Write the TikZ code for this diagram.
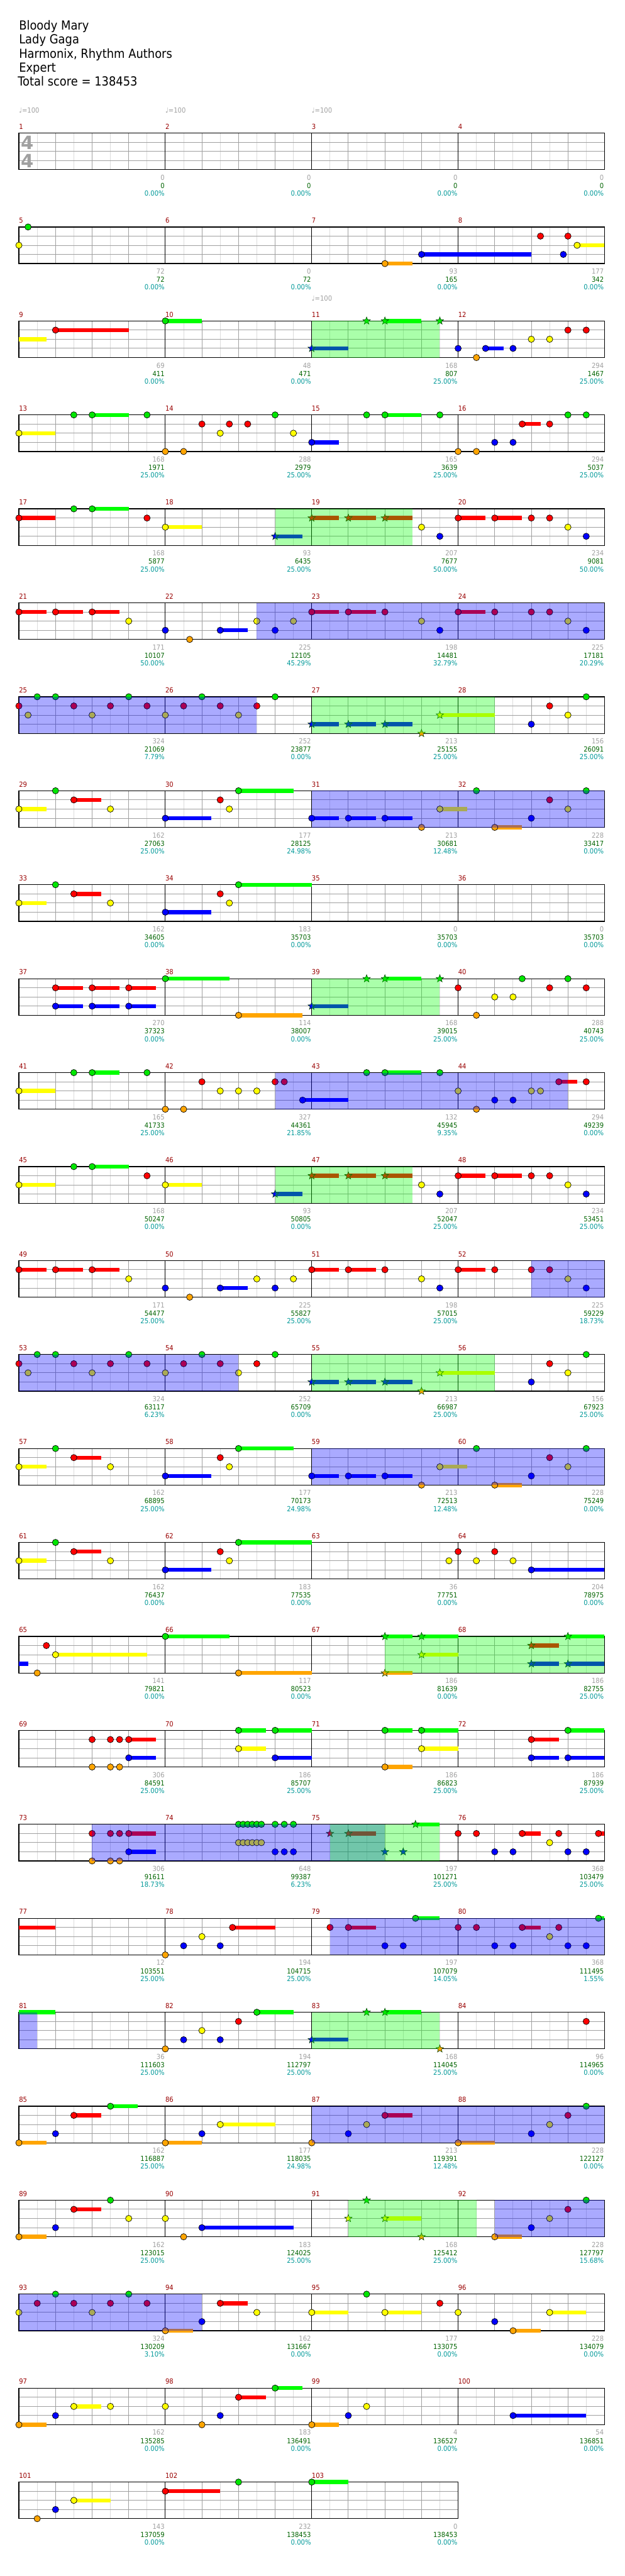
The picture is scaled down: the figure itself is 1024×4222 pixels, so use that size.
\documentclass[tikz,border=0pt]{standalone}
\usepackage{fontspec}
\setmainfont{DejaVu Sans}
\newfontfamily\lblfont[FakeStretch=0.9]{DejaVu Sans}
\usetikzlibrary{shapes.geometric}

\definecolor{lane0}{RGB}{0,230,0}
\definecolor{lane1}{RGB}{255,0,0}
\definecolor{lane2}{RGB}{255,255,0}
\definecolor{lane3}{RGB}{0,0,255}
\definecolor{lane4}{RGB}{255,165,0}
\definecolor{bar0}{RGB}{0,255,0}
\colorlet{bar1}{lane1}
\colorlet{bar2}{lane2}
\colorlet{bar3}{lane3}
\colorlet{bar4}{lane4}
\definecolor{numcol}{RGB}{153,0,0}
\definecolor{cntcol}{RGB}{160,160,160}
\definecolor{ptscol}{RGB}{0,100,0}
\definecolor{pctcol}{RGB}{0,153,153}
\definecolor{gridlt}{RGB}{220,220,220}
\definecolor{griddk}{RGB}{160,160,160}
\definecolor{stardk}{RGB}{0,60,0}

\tikzset{
  eighthline/.style={draw=gridlt,line width=1pt},
  beatline/.style={draw=griddk,line width=1pt},
  laneline/.style={draw=griddk,line width=1pt},
  barline/.style={draw=black,line width=1pt},
  staffline/.style={draw=black,line width=1.3pt},
  notedot/.style={draw=black,line width=0.7pt},
  spnote/.style={star,star points=5,star point ratio=2.4,minimum size=13pt,inner sep=0pt,draw=stardk,line width=0.6pt},
  lbl/.style={inner sep=0pt,font=\lblfont\fontsize{11.5}{12}\selectfont},
  numlbl/.style={lbl,text=numcol,anchor=base west},
  cntlbl/.style={lbl,text=cntcol,anchor=base east},
  ptslbl/.style={lbl,text=ptscol,anchor=base east},
  pctlbl/.style={lbl,text=pctcol,anchor=base east},
  tempo/.style={lbl,text=griddk,anchor=base west},
  ttl/.style={inner sep=0pt,anchor=base west,font=\lblfont\fontsize{20.5}{23}\selectfont},
  timesig/.style={inner sep=0pt,text=griddk,font=\bfseries\fontsize{30}{30}\selectfont}
}

% measure, eighth, lane, sustain (eighths)
\newcommand\where[3]{%
  \pgfmathtruncatemacro\rw{(#1-1)/4}%
  \pgfmathsetmacro\xx{31+mod(#1-1,4)*240+#2*30}%
  \pgfmathsetmacro\yy{218+\rw*154+#3*15}%
}
\newcommand\sus[4]{%
  \where{#1}{#2}{#3}%
  \fill[bar#3] (\xx,\yy-3.3) rectangle ++(#4*30,6.6);%
}
\newcommand\nt[4]{%
  \where{#1}{#2}{#3}%
  \ifdim#4pt>0pt \fill[bar#3] (\xx,\yy-3.3) rectangle ++(#4*30,6.6);\fi
  \filldraw[notedot,fill=lane#3] (\xx,\yy) circle (5.2);%
}
\newcounter{stn}
\newcommand\st[4]{%
  \where{#1}{#2}{#3}%
  \ifdim#4pt>0pt \fill[bar#3] (\xx,\yy-3.3) rectangle ++(#4*30,6.6);\fi
  \stepcounter{stn}\edef\stname{star\arabic{stn}}%
  \node[spnote,fill=lane#3] (\stname) at (\xx,\yy) {};%
}
% colour, from measure/eighth, to measure/eighth
\newcommand\ovl[5]{%
  \pgfmathtruncatemacro\rw{(#2-1)/4}%
  \pgfmathsetmacro\xa{31+mod(#2-1,4)*240+#3*30}%
  \pgfmathsetmacro\xb{31+mod(#4-1,4)*240+#5*30}%
  \pgfmathsetmacro\yy{218+\rw*154}%
  \fill[#1,fill opacity=0.333] (\xa,\yy) rectangle (\xb,\yy+60);%
}
\newcommand\mlab[4]{%
  \pgfmathtruncatemacro\rw{(#1-1)/4}%
  \pgfmathsetmacro\xe{31+mod(#1-1,4)*240+239}%
  \pgfmathsetmacro\yy{218+\rw*154}%
  \node[cntlbl] (cnt#1) at (\xe,\yy+77) {#2};%
  \node[ptslbl] (pts#1) at (\xe,\yy+90.5) {#3};%
  \node[pctlbl] (pct#1) at (\xe,\yy+103) {#4\%};%
}

\begin{document}
\begin{tikzpicture}[x=1pt,y=-1pt]
\fill[white] (0,0) rectangle (1024,4222);
\useasboundingbox (0,0) rectangle (1024,4222);

\node[ttl] (song) at (31,49) {Bloody Mary};
\node[ttl] (artist) at (31,72) {Lady Gaga};
\node[ttl] (charter) at (31,95) {Harmonix, Rhythm Authors};
\node[ttl] (level) at (31,118) {Expert};
\node[ttl] (total) at (29,141) {Total score = 138453};

% staves
\foreach \r in {0,...,25}{
  \pgfmathsetmacro\yt{218+\r*154}
  \pgfmathtruncatemacro\nm{\r==25 ? 3 : 4}
  \pgfmathtruncatemacro\ne{\nm*8-1}
  \pgfmathsetmacro\xe{31+\nm*240}
  \foreach \k in {1,3,...,\ne}
    \draw[eighthline] (31+\k*30,\yt) -- ++(0,60);
  \foreach \l in {15,30,45}
    \draw[laneline] (31,\yt+\l) -- (\xe,\yt+\l);
  \foreach \k in {2,4,...,\ne}{
    \pgfmathtruncatemacro\isbar{mod(\k,8)==0}
    \ifnum\isbar=1 \draw[barline] (31+\k*30,\yt) -- ++(0,60);
    \else \draw[beatline] (31+\k*30,\yt) -- ++(0,60);\fi
  }
  \draw[staffline] (31,\yt) rectangle (\xe,\yt+60);
}
\foreach \m in {1,...,103}{
  \pgfmathtruncatemacro\rw{(\m-1)/4}
  \pgfmathsetmacro\xs{31+mod(\m-1,4)*240}
  \node[numlbl] (num\m) at (\xs,218+\rw*154-6.5) {\m};
}
\node[timesig] (sigtop) at (44.5,234) {4};
\node[timesig] (sigbot) at (44.5,263.5) {4};
\node[tempo] (bpm1) at (31,185) {♩=100};
\node[tempo] (bpm2) at (271,185) {♩=100};
\node[tempo] (bpm3) at (511,185) {♩=100};
\node[tempo] (bpm11) at (511,493) {♩=100};

% notes
\nt{5}{0}{2}{0}\nt{5}{0.5}{0}{0}
\nt{7}{4}{4}{1.5}\nt{7}{6}{3}{6}
\nt{8}{4.5}{1}{0}\nt{8}{5.75}{3}{0}\nt{8}{6}{1}{0}\nt{8}{6.5}{2}{1.5}

\sus{9}{0}{2}{1.5}\nt{9}{2}{1}{4}
\nt{10}{0}{0}{2}
\st{11}{0}{3}{2}\st{11}{3}{0}{0}\st{11}{4}{0}{2}\st{11}{7}{0}{0}
\nt{12}{0}{3}{0}\nt{12}{1}{4}{0}\nt{12}{1.5}{3}{1}\nt{12}{3}{3}{0}
\nt{12}{4}{2}{0}\nt{12}{5}{2}{0}\nt{12}{6}{1}{0}\nt{12}{7}{1}{0}

\nt{13}{0}{2}{2}\nt{13}{3}{0}{0}\nt{13}{4}{0}{2}\nt{13}{7}{0}{0}
\nt{14}{0}{4}{0}\nt{14}{1}{4}{0}\nt{14}{2}{1}{0}\nt{14}{3}{2}{0}
\nt{14}{3.5}{1}{0}\nt{14}{4.5}{1}{0}\nt{14}{6}{0}{0}\nt{14}{7}{2}{0}
\nt{15}{0}{3}{1.5}\nt{15}{3}{0}{0}\nt{15}{4}{0}{2}\nt{15}{7}{0}{0}
\nt{16}{0}{4}{0}\nt{16}{1}{4}{0}\nt{16}{2}{3}{0}\nt{16}{3}{3}{0}
\nt{16}{3.5}{1}{1}\nt{16}{5}{1}{0}\nt{16}{6}{0}{0}\nt{16}{7}{0}{0}

\nt{17}{0}{1}{2}\nt{17}{3}{0}{0}\nt{17}{4}{0}{2}\nt{17}{7}{1}{0}
\nt{18}{0}{2}{2}\st{18}{6}{3}{1.5}
\st{19}{0}{1}{1.5}\st{19}{2}{1}{1.5}\st{19}{4}{1}{1.5}\nt{19}{6}{2}{0}\nt{19}{7}{3}{0}
\nt{20}{0}{1}{1.5}\nt{20}{2}{1}{1.5}\nt{20}{4}{1}{0}\nt{20}{5}{1}{0}\nt{20}{6}{2}{0}\nt{20}{7}{3}{0}

\foreach \m/\n in {21/22,49/50}{
  \nt{\m}{0}{1}{1.5}\nt{\m}{2}{1}{1.5}\nt{\m}{4}{1}{1.5}\nt{\m}{6}{2}{0}
  \nt{\n}{0}{3}{0}\nt{\n}{1.33}{4}{0}\nt{\n}{3}{3}{1.5}\nt{\n}{5}{2}{0}\nt{\n}{6}{3}{0}\nt{\n}{7}{2}{0}
}
\foreach \m/\n in {23/24,51/52}{
  \nt{\m}{0}{1}{1.5}\nt{\m}{2}{1}{1.5}\nt{\m}{4}{1}{0}\nt{\m}{6}{2}{0}\nt{\m}{7}{3}{0}
  \nt{\n}{0}{1}{1.5}\nt{\n}{2}{1}{0}\nt{\n}{4}{1}{0}\nt{\n}{5}{1}{0}\nt{\n}{6}{2}{0}\nt{\n}{7}{3}{0}
}
\foreach \m/\n/\o/\p in {25/26/27/28,53/54/55/56}{
  \nt{\m}{0}{1}{0}\nt{\m}{0.5}{2}{0}\nt{\m}{1}{0}{0}\nt{\m}{2}{0}{0}\nt{\m}{3}{1}{0}
  \nt{\m}{4}{2}{0}\nt{\m}{5}{1}{0}\nt{\m}{6}{0}{0}\nt{\m}{7}{1}{0}
  \nt{\n}{0}{2}{0}\nt{\n}{1}{1}{0}\nt{\n}{2}{0}{0}\nt{\n}{3}{1}{0}
  \nt{\n}{4}{2}{0}\nt{\n}{5}{1}{0}\nt{\n}{6}{0}{0}
  \st{\o}{0}{3}{1.5}\st{\o}{2}{3}{1.5}\st{\o}{4}{3}{1.5}\st{\o}{6}{4}{0}\st{\o}{7}{2}{3}
  \nt{\p}{4}{3}{0}\nt{\p}{5}{1}{0}\nt{\p}{6}{2}{0}\nt{\p}{7}{0}{0}
}
\foreach \m/\n in {29/30,33/34,57/58,61/62}{
  \nt{\m}{0}{2}{1.5}\nt{\m}{2}{0}{0}\nt{\m}{3}{1}{1.5}\nt{\m}{5}{2}{0}
  \nt{\n}{0}{3}{2.5}\nt{\n}{3}{1}{0}\nt{\n}{3.5}{2}{0}
}
\nt{30}{4}{0}{3}\nt{58}{4}{0}{3}\nt{34}{4}{0}{4}\nt{62}{4}{0}{4}
\foreach \m/\n in {31/32,59/60}{
  \nt{\m}{0}{3}{1.5}\nt{\m}{2}{3}{1.5}\nt{\m}{4}{3}{1.5}\nt{\m}{6}{4}{0}\nt{\m}{7}{2}{1.5}
  \nt{\n}{1}{0}{0}\nt{\n}{2}{4}{1.5}\nt{\n}{4}{3}{0}\nt{\n}{5}{1}{0}\nt{\n}{6}{2}{0}\nt{\n}{7}{0}{0}
}

\foreach \t in {2,4,6}{\nt{37}{\t}{1}{1.5}\nt{37}{\t}{3}{1.5}}
\nt{38}{0}{0}{3.5}\nt{38}{4}{4}{3.5}
\st{39}{0}{3}{2}\st{39}{3}{0}{0}\st{39}{4}{0}{2}\st{39}{7}{0}{0}
\nt{40}{0}{1}{0}\nt{40}{1}{4}{0}\nt{40}{2}{2}{0}\nt{40}{3}{2}{0}
\nt{40}{3.5}{0}{0}\nt{40}{5}{1}{0}\nt{40}{6}{0}{0}\nt{40}{7}{1}{0}

\nt{41}{0}{2}{2}\nt{41}{3}{0}{0}\nt{41}{4}{0}{1.5}\nt{41}{7}{0}{0}
\nt{42}{0}{4}{0}\nt{42}{1}{4}{0}\nt{42}{2}{1}{0}\nt{42}{3}{2}{0}\nt{42}{4}{2}{0}
\nt{42}{5}{2}{0}\nt{42}{6}{1}{0}\nt{42}{6.5}{1}{0}\nt{42}{7.5}{3}{2.5}
\nt{43}{3}{0}{0}\nt{43}{4}{0}{2}\nt{43}{7}{0}{0}
\nt{44}{0}{2}{0}\nt{44}{1}{4}{0}\nt{44}{2}{3}{0}\nt{44}{3}{3}{0}
\nt{44}{4}{2}{0}\nt{44}{4.5}{2}{0}\nt{44}{5.5}{1}{1}\nt{44}{7}{1}{0}

\nt{45}{0}{2}{2}\nt{45}{3}{0}{0}\nt{45}{4}{0}{2}\nt{45}{7}{1}{0}
\nt{46}{0}{2}{2}\st{46}{6}{3}{1.5}
\st{47}{0}{1}{1.5}\st{47}{2}{1}{1.5}\st{47}{4}{1}{1.5}\nt{47}{6}{2}{0}\nt{47}{7}{3}{0}
\nt{48}{0}{1}{1.5}\nt{48}{2}{1}{1.5}\nt{48}{4}{1}{0}\nt{48}{5}{1}{0}\nt{48}{6}{2}{0}\nt{48}{7}{3}{0}

\nt{63}{7.5}{2}{0}
\nt{64}{0}{1}{0}\nt{64}{1}{2}{0}\nt{64}{2}{1}{0}\nt{64}{3}{2}{0}\nt{64}{4}{3}{4}

\sus{65}{0}{3}{0.5}\nt{65}{1}{4}{0}\nt{65}{1.5}{1}{0}\nt{65}{2}{2}{5}
\nt{66}{0}{0}{3.5}\nt{66}{4}{4}{4}
\st{67}{4}{0}{1.5}\st{67}{4}{4}{1.5}\st{67}{6}{0}{2}\st{67}{6}{2}{2}
\st{68}{4}{1}{1.5}\st{68}{4}{3}{1.5}\st{68}{6}{0}{2}\st{68}{6}{3}{2}

\foreach \m in {69,73}{
  \foreach \t in {4,5,5.5}{\nt{\m}{\t}{1}{0}\nt{\m}{\t}{4}{0}}
  \nt{\m}{6}{1}{1.5}\nt{\m}{6}{3}{1.5}
}
\nt{70}{4}{0}{1.5}\nt{70}{4}{2}{1.5}\nt{70}{6}{0}{2}\nt{70}{6}{3}{2}
\nt{71}{4}{0}{1.5}\nt{71}{4}{4}{1.5}\nt{71}{6}{0}{2}\nt{71}{6}{2}{2}
\nt{72}{4}{1}{1.5}\nt{72}{4}{3}{1.5}\nt{72}{6}{0}{2}\nt{72}{6}{3}{2}

\foreach \t in {4,4.25,4.5,4.75,5,5.25}{\nt{74}{\t}{0}{0}\nt{74}{\t}{2}{0}}
\foreach \t in {6,6.5,7}{\nt{74}{\t}{0}{0}\nt{74}{\t}{3}{0}}
\st{75}{1}{1}{0}\st{75}{2}{1}{1.5}\st{75}{4}{3}{0}\st{75}{5}{3}{0}\st{75}{5.67}{0}{1.33}
\foreach \m in {76,80}{
  \nt{\m}{0}{1}{0}\nt{\m}{1}{1}{0}\nt{\m}{2}{3}{0}\nt{\m}{3}{3}{0}\nt{\m}{3.5}{1}{1}
  \nt{\m}{5}{2}{0}\nt{\m}{5.5}{1}{0}\nt{\m}{6}{3}{0}\nt{\m}{7}{3}{0}
}
\nt{76}{7.67}{1}{0.33}\nt{80}{7.67}{0}{0.33}

\sus{77}{0}{1}{2}
\nt{78}{0}{4}{0}\nt{78}{1}{3}{0}\nt{78}{2}{2}{0}\nt{78}{3}{3}{0}\nt{78}{3.67}{1}{2.33}
\nt{79}{1}{1}{0}\nt{79}{2}{1}{1.5}\nt{79}{4}{3}{0}\nt{79}{5}{3}{0}\nt{79}{5.67}{0}{1.33}

\sus{81}{0}{0}{2}
\nt{82}{0}{4}{0}\nt{82}{1}{3}{0}\nt{82}{2}{2}{0}\nt{82}{3}{3}{0}\nt{82}{4}{1}{0}\nt{82}{5}{0}{2}
\st{83}{0}{3}{2}\st{83}{3}{0}{0}\st{83}{4}{0}{2}\st{83}{7}{4}{0}
\nt{84}{7}{1}{0}

\nt{85}{0}{4}{1.5}\nt{85}{2}{3}{0}\nt{85}{3}{1}{1.5}\nt{85}{5}{0}{1.5}
\nt{86}{0}{4}{2}\nt{86}{2}{3}{0}\nt{86}{3}{2}{3}
\nt{87}{0}{4}{0}\nt{87}{2}{3}{0}\nt{87}{3}{2}{0}\nt{87}{4}{1}{1.5}
\nt{88}{0}{4}{2}\nt{88}{4}{3}{0}\nt{88}{5}{2}{0}\nt{88}{6}{1}{0}\nt{88}{7}{0}{0}

\nt{89}{0}{4}{1.5}\nt{89}{2}{3}{0}\nt{89}{3}{1}{1.5}\nt{89}{5}{0}{0}\nt{89}{6}{2}{0}
\nt{90}{0}{2}{0}\nt{90}{1}{4}{0}\nt{90}{2}{3}{5}
\st{91}{2}{2}{0}\st{91}{3}{0}{0}\st{91}{4}{2}{2}\st{91}{6}{4}{0}
\nt{92}{2}{4}{1.5}\nt{92}{4}{3}{0}\nt{92}{5}{2}{0}\nt{92}{6}{1}{0}\nt{92}{7}{0}{0}

\nt{93}{0}{2}{0}\nt{93}{1}{1}{0}\nt{93}{2}{0}{0}\nt{93}{3}{1}{0}
\nt{93}{4}{2}{0}\nt{93}{5}{1}{0}\nt{93}{6}{0}{0}\nt{93}{7}{1}{0}
\nt{94}{0}{4}{1.5}\nt{94}{2}{3}{0}\nt{94}{3}{1}{1.5}\nt{94}{5}{2}{0}
\nt{95}{0}{2}{2}\nt{95}{3}{0}{0}\nt{95}{4}{2}{2}\nt{95}{7}{1}{0}
\nt{96}{0}{2}{0}\nt{96}{2}{3}{0}\nt{96}{3}{4}{1.5}\nt{96}{5}{2}{2}

\nt{97}{0}{4}{1.5}\nt{97}{2}{3}{0}\nt{97}{3}{2}{1.5}\nt{97}{5}{2}{0}
\nt{98}{0}{2}{0}\nt{98}{2}{4}{0}\nt{98}{3}{3}{0}\nt{98}{4}{1}{1.5}\nt{98}{6}{0}{1.5}
\nt{99}{0}{4}{1.5}\nt{99}{2}{3}{0}\nt{99}{3}{2}{0}
\nt{100}{3}{3}{4}
\nt{101}{1}{4}{0}\nt{101}{2}{3}{0}\nt{101}{3}{2}{2}
\nt{102}{0}{1}{3}\nt{102}{4}{0}{0}
\nt{103}{0}{0}{2}

% star power and overdrive shading
\ovl{green}{11}{0}{11}{7}
\ovl{green}{18}{6}{19}{5.5}
\ovl{blue}{22}{5}{24}{8}
\ovl{blue}{25}{0}{26}{5}
\ovl{green}{27}{0}{28}{2}
\ovl{blue}{31}{0}{32}{8}
\ovl{green}{39}{0}{39}{7}
\ovl{blue}{42}{6}{44}{6}
\ovl{green}{46}{6}{47}{5.5}
\ovl{blue}{52}{4}{52}{8}
\ovl{blue}{53}{0}{54}{4}
\ovl{green}{55}{0}{56}{2}
\ovl{blue}{59}{0}{60}{8}
\ovl{green}{67}{4}{68}{8}
\ovl{blue}{73}{4}{75}{4}
\ovl{green}{75}{1}{75}{7}
\ovl{blue}{79}{1}{80}{8}
\ovl{blue}{81}{0}{81}{1}
\ovl{green}{83}{0}{83}{7}
\ovl{blue}{87}{0}{88}{8}
\ovl{green}{91}{2}{92}{1}
\ovl{blue}{92}{2}{92}{8}
\ovl{blue}{93}{0}{94}{2}

% scores
\mlab{1}{0}{0}{0.00}\mlab{2}{0}{0}{0.00}\mlab{3}{0}{0}{0.00}\mlab{4}{0}{0}{0.00}
\mlab{5}{72}{72}{0.00}\mlab{6}{0}{72}{0.00}\mlab{7}{93}{165}{0.00}\mlab{8}{177}{342}{0.00}
\mlab{9}{69}{411}{0.00}\mlab{10}{48}{471}{0.00}\mlab{11}{168}{807}{25.00}\mlab{12}{294}{1467}{25.00}
\mlab{13}{168}{1971}{25.00}\mlab{14}{288}{2979}{25.00}\mlab{15}{165}{3639}{25.00}\mlab{16}{294}{5037}{25.00}
\mlab{17}{168}{5877}{25.00}\mlab{18}{93}{6435}{25.00}\mlab{19}{207}{7677}{50.00}\mlab{20}{234}{9081}{50.00}
\mlab{21}{171}{10107}{50.00}\mlab{22}{225}{12105}{45.29}\mlab{23}{198}{14481}{32.79}\mlab{24}{225}{17181}{20.29}
\mlab{25}{324}{21069}{7.79}\mlab{26}{252}{23877}{0.00}\mlab{27}{213}{25155}{25.00}\mlab{28}{156}{26091}{25.00}
\mlab{29}{162}{27063}{25.00}\mlab{30}{177}{28125}{24.98}\mlab{31}{213}{30681}{12.48}\mlab{32}{228}{33417}{0.00}
\mlab{33}{162}{34605}{0.00}\mlab{34}{183}{35703}{0.00}\mlab{35}{0}{35703}{0.00}\mlab{36}{0}{35703}{0.00}
\mlab{37}{270}{37323}{0.00}\mlab{38}{114}{38007}{0.00}\mlab{39}{168}{39015}{25.00}\mlab{40}{288}{40743}{25.00}
\mlab{41}{165}{41733}{25.00}\mlab{42}{327}{44361}{21.85}\mlab{43}{132}{45945}{9.35}\mlab{44}{294}{49239}{0.00}
\mlab{45}{168}{50247}{0.00}\mlab{46}{93}{50805}{0.00}\mlab{47}{207}{52047}{25.00}\mlab{48}{234}{53451}{25.00}
\mlab{49}{171}{54477}{25.00}\mlab{50}{225}{55827}{25.00}\mlab{51}{198}{57015}{25.00}\mlab{52}{225}{59229}{18.73}
\mlab{53}{324}{63117}{6.23}\mlab{54}{252}{65709}{0.00}\mlab{55}{213}{66987}{25.00}\mlab{56}{156}{67923}{25.00}
\mlab{57}{162}{68895}{25.00}\mlab{58}{177}{70173}{24.98}\mlab{59}{213}{72513}{12.48}\mlab{60}{228}{75249}{0.00}
\mlab{61}{162}{76437}{0.00}\mlab{62}{183}{77535}{0.00}\mlab{63}{36}{77751}{0.00}\mlab{64}{204}{78975}{0.00}
\mlab{65}{141}{79821}{0.00}\mlab{66}{117}{80523}{0.00}\mlab{67}{186}{81639}{0.00}\mlab{68}{186}{82755}{25.00}
\mlab{69}{306}{84591}{25.00}\mlab{70}{186}{85707}{25.00}\mlab{71}{186}{86823}{25.00}\mlab{72}{186}{87939}{25.00}
\mlab{73}{306}{91611}{18.73}\mlab{74}{648}{99387}{6.23}\mlab{75}{197}{101271}{25.00}\mlab{76}{368}{103479}{25.00}
\mlab{77}{12}{103551}{25.00}\mlab{78}{194}{104715}{25.00}\mlab{79}{197}{107079}{14.05}\mlab{80}{368}{111495}{1.55}
\mlab{81}{36}{111603}{25.00}\mlab{82}{194}{112797}{25.00}\mlab{83}{168}{114045}{25.00}\mlab{84}{96}{114965}{0.00}
\mlab{85}{162}{116887}{25.00}\mlab{86}{177}{118035}{24.98}\mlab{87}{213}{119391}{12.48}\mlab{88}{228}{122127}{0.00}
\mlab{89}{162}{123015}{25.00}\mlab{90}{183}{124025}{25.00}\mlab{91}{168}{125412}{25.00}\mlab{92}{228}{127797}{15.68}
\mlab{93}{324}{130209}{3.10}\mlab{94}{162}{131667}{0.00}\mlab{95}{177}{133075}{0.00}\mlab{96}{228}{134079}{0.00}
\mlab{97}{162}{135285}{0.00}\mlab{98}{183}{136491}{0.00}\mlab{99}{4}{136527}{0.00}\mlab{100}{54}{136851}{0.00}
\mlab{101}{143}{137059}{0.00}\mlab{102}{232}{138453}{0.00}\mlab{103}{0}{138453}{0.00}
\end{tikzpicture}
\end{document}
